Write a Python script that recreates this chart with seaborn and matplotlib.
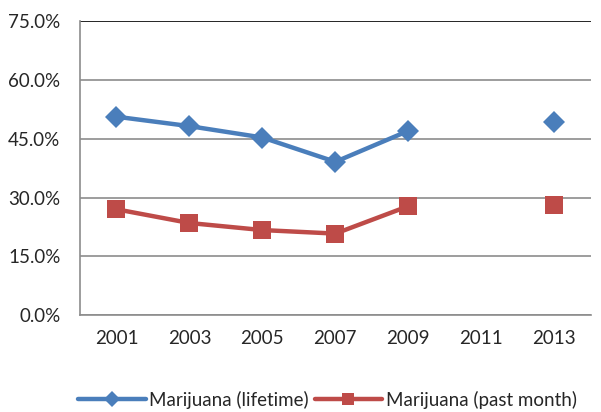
import numpy as np
import pandas as pd
import seaborn as sns
import matplotlib.pyplot as plt
from matplotlib.lines import Line2D

years = ["2001", "2003", "2005", "2007", "2009", "2011", "2013"]
lifetime = [50.6, 48.2, 45.3, 39.1, 47.0, np.nan, 49.2]
past_month = [27.0, 23.5, 21.7, 20.8, 27.8, np.nan, 28.1]
series_names = ["Marijuana (lifetime)", "Marijuana (past month)"]
colors = ["#4A7EBB", "#BE4B48"]
yticks = [0, 15, 30, 45, 60, 75]

# segment id so the line breaks at the missing 2011 value
segment = [0, 0, 0, 0, 0, 1, 1]

rows = []
for name, vals in zip(series_names, [lifetime, past_month]):
    for i, (yr, v) in enumerate(zip(years, vals)):
        if not np.isnan(v):
            rows.append({"pos": i, "value": v, "series": name, "segment": segment[i]})
df = pd.DataFrame(rows)

sns.set_style("white")
plt.rcParams['font.family'] = ['Lato', 'DejaVu Sans']
FS = 13.5

fig = plt.figure(figsize=(6.01, 4.12), dpi=100)
ax = fig.add_axes([0.133, 0.235, 0.85, 0.714])

for v in yticks:
    ax.axhline(v, color="#000000" if v == 75 else "#8C8C8C", lw=1.2, zorder=0)

sns.lineplot(data=df, x="pos", y="value", hue="series", style="series",
             units="segment", estimator=None, markers=["D", "s"], dashes=False,
             palette=colors, linewidth=3.2, markersize=10, markeredgewidth=0,
             legend=False, ax=ax)
# square markers are a bit bigger
for line in ax.get_lines():
    if line.get_marker() == "s":
        line.set_markersize(13.5)
    elif line.get_marker() == "D":
        line.set_markersize(11.5)

ax.set_xlim(-0.5, 6.5)
ax.set_ylim(0, 75)
ax.set_yticks(yticks)
ax.set_yticklabels([f"{v:.1f}%" for v in yticks], fontsize=FS)
ax.set_xticks(range(len(years)))
ax.set_xticklabels(years, fontsize=FS)
ax.set_xticks(np.arange(-0.5, 6.0, 1.0), minor=True)
ax.tick_params(axis="x", which="major", length=0, pad=11)
ax.tick_params(axis="x", which="minor", length=5, color="#8C8C8C", width=1.2)
ax.tick_params(axis="y", length=0, pad=14)
ax.set_xlabel("")
ax.set_ylabel("")

for s in ["top", "right"]:
    ax.spines[s].set_visible(False)
for s in ["left", "bottom"]:
    ax.spines[s].set_color("#8C8C8C")
    ax.spines[s].set_linewidth(1.2)

handles = [Line2D([], [], color=c, lw=3.2, marker=m, markersize=8, markeredgewidth=0)
           for c, m in zip(colors, ["D", "s"])]
fig.legend(handles, series_names, loc="center", bbox_to_anchor=(0.545, 0.03),
           ncol=2, frameon=False, fontsize=FS, handlelength=3.6,
           columnspacing=0.3, handletextpad=0.2)

fig.savefig("out.png", dpi=100)
